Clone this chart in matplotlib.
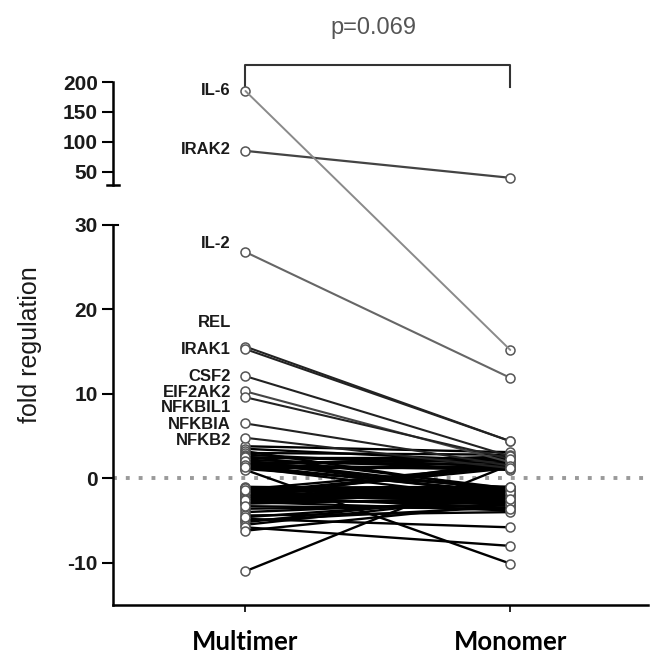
import matplotlib
matplotlib.use("Agg")
import matplotlib.pyplot as plt
from matplotlib.patches import ConnectionPatch

# ---------------- data ----------------
groups = ["Multimer", "Monomer"]

# labelled genes (lower panel)
lab_genes = ["IL-2", "REL", "IRAK1", "CSF2", "EIF2AK2", "NFKBIL1", "NFKBIA", "NFKB2"]
lab_multimer = [26.8, 15.6, 15.3, 12.1, 10.3, 9.6, 6.5, 4.8]
lab_monomer = [11.9, 4.4, 4.4, 2.6, 1.9, 2.3, 1.5, 1.2]
lab_text_y = [27.8, 18.4, 15.2, 12.1, 10.2, 8.4, 6.4, 4.5]

# upper panel genes
top_genes = ["IL-6", "IRAK2"]
top_multimer = [185, 85]
top_monomer = [15.2, 40]   # IL-6 monomer value falls in the lower panel
top_text_y = [186, 87]

# unlabelled genes
un_multimer = [3.8, 3.5, 3.2, 3.0, 2.8, 2.6, 2.4, 2.2, 2.0, 1.9, 1.8, 1.7, 1.6, 1.5,
               1.4, 1.3, 1.2, 1.1, 1.0,
               -1.0, -1.1, -1.2, -1.3, -1.4, -1.5, -1.6, -1.7, -1.8, -1.9, -2.0,
               -2.1, -2.2, -2.3, -2.4, -2.5, -2.6, -2.7, -2.8, -2.9, -3.0,
               -3.6, -4.0, -4.4, -4.8, -5.0, -5.2, -5.5, -5.8, -6.2, -11.0,
               2.5, 2.1, 1.6, 1.3, -1.2, -1.5, -1.7, -2.0, -2.2, -2.4, -2.6,
               -1.1, -1.4, -3.3, -4.6]
un_monomer = [3.1, 2.0, -1.5, 2.8, 1.3, -1.2, 2.4, 1.1, -2.0, 1.6, -1.3, 2.2, 1.0, -1.8,
              1.4, -2.5, 1.2, -1.1, -10.1,
              -1.4, -1.0, -2.2, 1.5, -1.6, -3.0, -1.2, -2.6, -1.9, 1.2, -1.1,
              -2.4, -3.5, -1.7, 2.0, -2.0, -1.3, -2.8, -3.8, -1.5, -2.3,
              -3.2, -2.7, -4.0, -5.8, -3.4, -1.8, -2.1, -8.0, -3.0, 1.6,
              1.8, -1.4, 2.6, -1.6, -2.1, -1.2, 1.4, -2.7, -1.1, -3.1, -1.6,
              -2.9, -1.0, -3.6, -2.4]

p_text = "p=0.069"

# ---------------- figure ----------------
W, H = 654, 669
fig = plt.figure(figsize=(W / 100, H / 100), dpi=100)
L, R = 113, 648
ax_b = fig.add_axes([L / W, 1 - 605 / H, (R - L) / W, (605 - 225) / H])
ax_t = fig.add_axes([L / W, 1 - 185 / H, (R - L) / W, (185 - 82) / H], sharex=ax_b)

x = [0, 1]
mk = dict(marker="o", mfc="white", mec="#555555", ms=6.5, mew=1.1)

ax_b.axhline(0, color="#9a9a9a", lw=2.8, ls=(0, (1, 2.3)), zorder=1)

for m, n in zip(un_multimer, un_monomer):
    ax_b.plot(x, [m, n], color="black", lw=1.7, zorder=2, **mk)

line_cols = ["#666666", "#222222", "#222222", "#222222", "#444444", "#222222", "#222222", "#222222"]
for g, m, n, ty, c in zip(lab_genes, lab_multimer, lab_monomer, lab_text_y, line_cols):
    ax_b.plot(x, [m, n], color=c, lw=1.5, zorder=3, **mk)
    ax_b.text(-0.055, ty, g, ha="right", va="center", fontsize=12,
              fontweight="bold", color="#1a1a1a", family="Liberation Sans")

# upper panel
ax_t.plot(x, [top_multimer[1], top_monomer[1]], color="#444444", lw=1.6, zorder=3,
          clip_on=False, **mk)
ax_t.plot([0], [top_multimer[0]], zorder=4, clip_on=False, **mk)
ax_b.plot([1], [top_monomer[0]], zorder=4, **mk)
con = ConnectionPatch(xyA=(0, top_multimer[0]), coordsA=ax_t.transData,
                      xyB=(1, top_monomer[0]), coordsB=ax_b.transData,
                      color="#8a8a8a", lw=1.4, zorder=2)
fig.add_artist(con)
for g, ty in zip(top_genes, top_text_y):
    ax_t.text(-0.055, ty, g, ha="right", va="center", fontsize=12,
              fontweight="bold", color="#1a1a1a", family="Liberation Sans")

# bracket
ax_t.plot([0, 0, 1, 1], [188, 228, 228, 192], color="#333333", lw=1.5, clip_on=False)
fig.text(373 / W, 1 - 28 / H, p_text, ha="center", va="center", fontsize=17,
         color="#555555", family="Liberation Sans")

# axes styling
ax_b.set_xlim(-0.5, 1.52)
ax_b.set_ylim(-15, 30)
ax_t.set_ylim(28, 200)

for ax in (ax_b, ax_t):
    ax.spines["top"].set_visible(False)
    ax.spines["right"].set_visible(False)
    ax.spines["left"].set_linewidth(1.8)
    ax.tick_params(axis="y", length=8, width=1.5, pad=3)
ax_t.spines["bottom"].set_visible(False)
ax_t.tick_params(axis="x", bottom=False, labelbottom=False)
ax_b.spines["bottom"].set_linewidth(1.8)

# break caps on the y spines
ax_t.plot([-0.012, 0.012], [0, 0], transform=ax_t.transAxes, color="black",
          lw=1.8, clip_on=False)
ax_b.plot([0, 0.010], [1, 1], transform=ax_b.transAxes, color="black",
          lw=1.5, clip_on=False)

ax_b.set_yticks([-10, 0, 10, 20, 30])
ax_b.set_yticklabels(["-10", "0", "10", "20", "30"], fontweight="bold",
                     family="Liberation Sans", fontsize=15, color="#1a1a1a")
ax_t.set_yticks([50, 100, 150, 200])
ax_t.set_yticklabels(["50", "100", "150", "200"], fontweight="bold",
                     family="Liberation Sans", fontsize=15, color="#1a1a1a")
ax_b.set_xticks(x)
ax_b.set_xticklabels(groups, fontweight="bold", family="Lato", fontsize=18.5)
ax_b.tick_params(axis="x", length=5, width=1.2, pad=13)

ax_t.patch.set_alpha(0)
ax_b.patch.set_alpha(0)

fig.text(30 / W, 1 - 345 / H, "fold regulation", rotation=90, ha="center",
         va="center", fontsize=18, family="Liberation Sans", color="#1a1a1a")

fig.savefig("out.png", dpi=100)
